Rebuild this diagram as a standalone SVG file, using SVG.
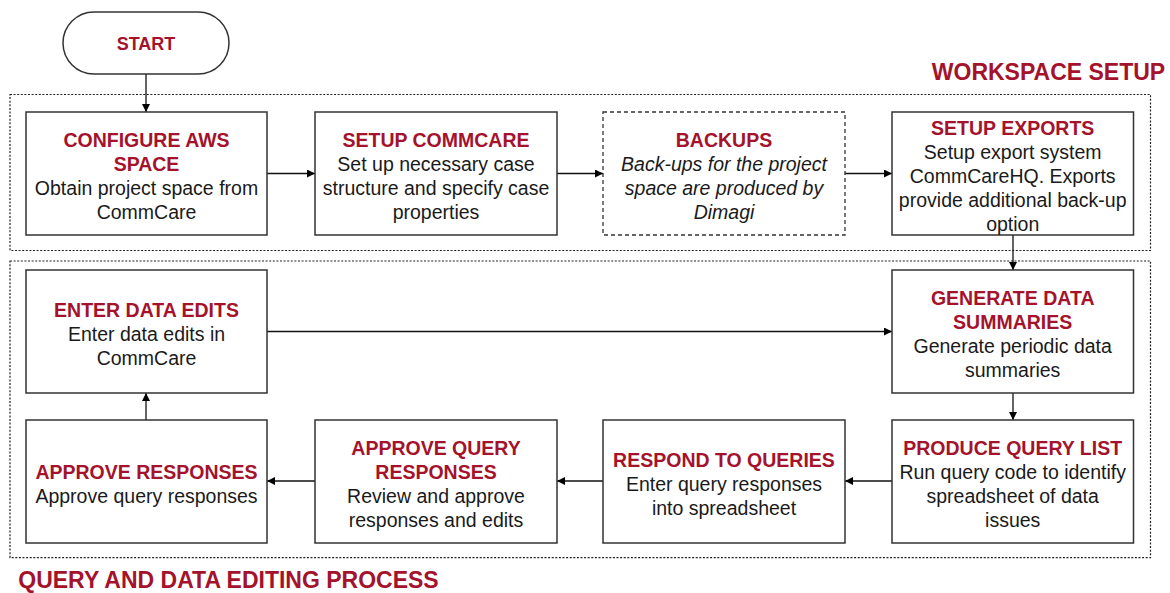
<svg xmlns="http://www.w3.org/2000/svg" width="1170" height="593" viewBox="0 0 1170 593">
  <style>
    text { font-family: "Liberation Sans", Arial, sans-serif; text-anchor: middle; }
    .t { font-weight: bold; font-size: 19.5px; fill: #a4122c; }
    .b { font-size: 19.5px; fill: #1a1a1a; }
    .i { font-size: 19.5px; fill: #1a1a1a; font-style: italic; }
    .sec { font-weight: bold; font-size: 23px; fill: #a4122c; }
    .box { fill: #ffffff; stroke: #333333; stroke-width: 1.5; }
    .dbox { fill: #ffffff; stroke: #333333; stroke-width: 1.3; stroke-dasharray: 4 3; }
    .frame { fill: none; stroke: #222222; stroke-width: 1.2; stroke-dasharray: 2 1.6; }
    .edge { fill: none; stroke: #111111; stroke-width: 1.3; marker-end: url(#arrow); }
  </style>
  <defs>
    <marker id="arrow" viewBox="0 0 10 10" refX="10" refY="5" markerWidth="8" markerHeight="8" markerUnits="userSpaceOnUse" orient="auto">
      <path d="M0,0 L10,5 L0,10 z" fill="#000000"/>
    </marker>
  </defs>

  <!-- section frames -->
  <g id="frames">
    <rect class="frame" x="10" y="94.5" width="1140.5" height="156"/>
    <rect class="frame" x="10" y="261" width="1140.5" height="296.7"/>
    <text class="sec" x="1048.5" y="79.5">WORKSPACE SETUP</text>
    <text class="sec" x="228.5" y="588">QUERY AND DATA EDITING PROCESS</text>
  </g>

  <!-- connectors -->
  <g id="connectors">
    <path class="edge" d="M146,74 L146,112"/>
    <path class="edge" d="M267,173.5 L315,173.5"/>
    <path class="edge" d="M557,173.5 L603,173.5"/>
    <path class="edge" d="M845,173.5 L892,173.5"/>
    <path class="edge" d="M1013,235 L1013,270"/>
    <path class="edge" d="M267,331.5 L892,331.5"/>
    <path class="edge" d="M1013,393 L1013,420"/>
    <path class="edge" d="M892,481 L845,481"/>
    <path class="edge" d="M603,481 L557,481"/>
    <path class="edge" d="M315,481 L267,481"/>
    <path class="edge" d="M146,420 L146,393"/>
  </g>

  <g id="start">
    <rect class="box" x="63" y="12" width="166" height="62" rx="31" ry="31"/>
    <text class="t" x="146" y="49.5" style="font-size:18px">START</text>
  </g>

  <g id="configure-aws">
    <rect class="box" x="26" y="112" width="241" height="123"/>
    <text class="t" x="146.5" y="147">CONFIGURE AWS</text>
    <text class="t" x="146.5" y="171">SPACE</text>
    <text class="b" x="146.5" y="195">Obtain project space from</text>
    <text class="b" x="146.5" y="219">CommCare</text>
  </g>

  <g id="setup-commcare">
    <rect class="box" x="315" y="112" width="242" height="123"/>
    <text class="t" x="436" y="147">SETUP COMMCARE</text>
    <text class="b" x="436" y="171">Set up necessary case</text>
    <text class="b" x="436" y="195">structure and specify case</text>
    <text class="b" x="436" y="219">properties</text>
  </g>

  <g id="backups">
    <rect class="dbox" x="603" y="112" width="242" height="123"/>
    <text class="t" x="724" y="147">BACKUPS</text>
    <text class="i" x="724" y="171">Back-ups for the project</text>
    <text class="i" x="724" y="195">space are produced by</text>
    <text class="i" x="724" y="219">Dimagi</text>
  </g>

  <g id="setup-exports">
    <rect class="box" x="892" y="112" width="241.5" height="123"/>
    <text class="t" x="1012.7" y="135">SETUP EXPORTS</text>
    <text class="b" x="1012.7" y="159">Setup export system</text>
    <text class="b" x="1012.7" y="183">CommCareHQ. Exports</text>
    <text class="b" x="1012.7" y="207">provide additional back-up</text>
    <text class="b" x="1012.7" y="231">option</text>
  </g>

  <g id="enter-data-edits">
    <rect class="box" x="26" y="270" width="241" height="123"/>
    <text class="t" x="146.5" y="317">ENTER DATA EDITS</text>
    <text class="b" x="146.5" y="341">Enter data edits in</text>
    <text class="b" x="146.5" y="365">CommCare</text>
  </g>

  <g id="generate-data-summaries">
    <rect class="box" x="892" y="270" width="241.5" height="123"/>
    <text class="t" x="1012.7" y="305">GENERATE DATA</text>
    <text class="t" x="1012.7" y="329">SUMMARIES</text>
    <text class="b" x="1012.7" y="353">Generate periodic data</text>
    <text class="b" x="1012.7" y="377">summaries</text>
  </g>

  <g id="approve-responses">
    <rect class="box" x="26" y="420" width="241" height="123"/>
    <text class="t" x="146.5" y="478.8">APPROVE RESPONSES</text>
    <text class="b" x="146.5" y="502.8">Approve query responses</text>
  </g>

  <g id="approve-query-responses">
    <rect class="box" x="315" y="420" width="242" height="123"/>
    <text class="t" x="436" y="454.8">APPROVE QUERY</text>
    <text class="t" x="436" y="478.8">RESPONSES</text>
    <text class="b" x="436" y="502.8">Review and approve</text>
    <text class="b" x="436" y="526.8">responses and edits</text>
  </g>

  <g id="respond-to-queries">
    <rect class="box" x="603" y="420" width="242" height="123"/>
    <text class="t" x="724" y="466.8">RESPOND TO QUERIES</text>
    <text class="b" x="724" y="490.8">Enter query responses</text>
    <text class="b" x="724" y="514.8">into spreadsheet</text>
  </g>

  <g id="produce-query-list">
    <rect class="box" x="892" y="420" width="241.5" height="123"/>
    <text class="t" x="1012.7" y="454.8">PRODUCE QUERY LIST</text>
    <text class="b" x="1012.7" y="478.8">Run query code to identify</text>
    <text class="b" x="1012.7" y="502.8">spreadsheet of data</text>
    <text class="b" x="1012.7" y="526.8">issues</text>
  </g>
</svg>
